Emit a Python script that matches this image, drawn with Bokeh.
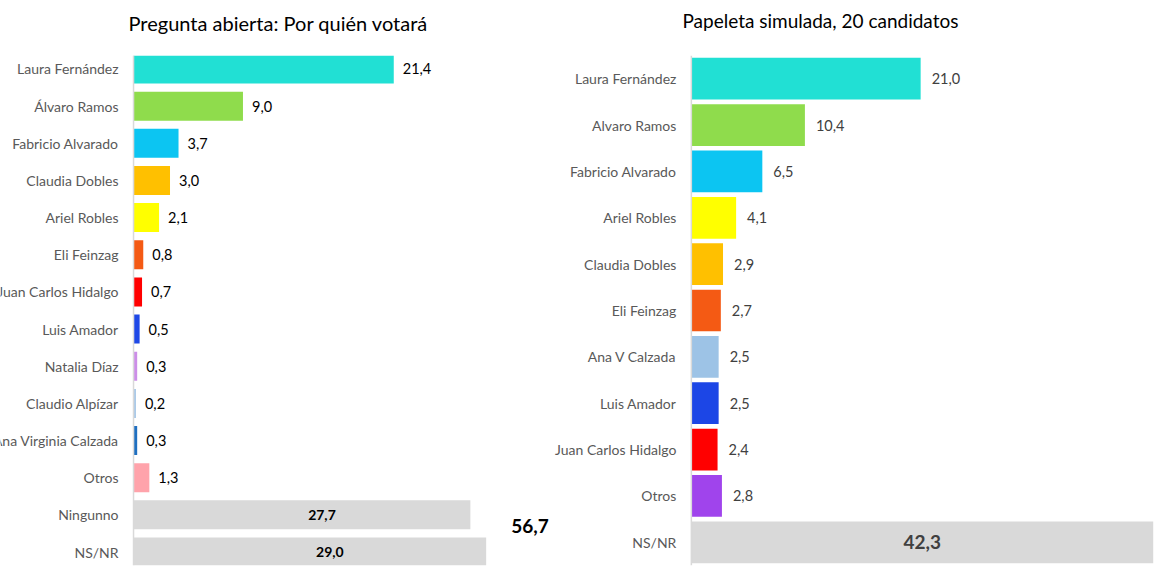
from bokeh.plotting import figure
from bokeh.models import Range1d, FactorRange, Span, Label, ColumnDataSource, Title
from bokeh.layouts import row
from bokeh.embed import file_html
from bokeh.resources import INLINE
from bokeh.core.properties import value

# ---------------- data ----------------
left_title = "Pregunta abierta: Por quién votará"
left_cats = ["Laura Fernández", "Álvaro Ramos", "Fabricio Alvarado", "Claudia Dobles",
             "Ariel Robles", "Eli Feinzag", "Juan Carlos Hidalgo", "Luis Amador",
             "Natalia Díaz", "Claudio Alpízar", "Ana Virginia Calzada", "Otros",
             "Ningunno", "NS/NR"]
left_vals = [21.4, 9.0, 3.7, 3.0, 2.1, 0.8, 0.7, 0.5, 0.3, 0.2, 0.3, 1.3, 27.7, 29.0]
left_colors = ["#21e0d4", "#8fdc4c", "#0cc5f2", "#ffc000", "#ffff00", "#f45a14",
               "#ff0000", "#1e48e6", "#cc8ee8", "#a8c8e8", "#1f6fc0", "#ffa3ab",
               "#d9d9d9", "#d9d9d9"]

right_title = "Papeleta simulada, 20 candidatos"
right_cats = ["Laura Fernández", "Alvaro Ramos", "Fabricio Alvarado", "Ariel Robles",
              "Claudia Dobles", "Eli Feinzag", "Ana V Calzada", "Luis Amador",
              "Juan Carlos Hidalgo", "Otros", "NS/NR"]
right_vals = [21.0, 10.4, 6.5, 4.1, 2.9, 2.7, 2.5, 2.5, 2.4, 2.8, 42.3]
right_colors = ["#21e0d4", "#8fdc4c", "#0cc5f2", "#ffff00", "#ffc000", "#f45a14",
                "#9dc3e6", "#1c46e6", "#ff0000", "#a044ec", "#d9d9d9"]

undecided = ["Ningunno", "NS/NR"]

FONT = "Lato"


def fmt(v):
    return f"{v:.1f}".replace(".", ",")


def make_chart(title, cats, vals, colors, width, height, x_range, pad,
               bar_h, val_color, title_size, title_offset, title_gap,
               inner_size, inner_color, inner_shift, val_gap):
    p = figure(width=width, height=height, output_backend="svg", toolbar_location=None,
               x_range=x_range,
               y_range=FactorRange(factors=list(reversed(cats)), range_padding=pad,
                                   range_padding_units="absolute"),
               x_axis_location=None, y_axis_location=None,
               min_border_left=0, min_border_right=0,
               min_border_top=55, min_border_bottom=7)
    p.outline_line_color = None
    p.xgrid.visible = False
    p.ygrid.visible = False
    p.background_fill_color = "white"

    # spacer (closest to the frame), then the title itself
    p.add_layout(Title(text=" ", text_font_size="1px", standoff=title_gap), "above")
    p.add_layout(Title(text=title, align="left", offset=title_offset, standoff=0,
                       text_font=FONT, text_font_size=title_size,
                       text_font_style="normal", text_color="#000000"), "above")

    src = ColumnDataSource(dict(cat=cats, val=vals, color=colors))
    p.hbar(y="cat", right="val", left=0, height=bar_h, color="color",
           line_color=None, source=src)

    # axis line
    p.add_layout(Span(location=0, dimension="height", line_color="#d9d9d9",
                      line_width=1.5))

    # category labels
    p.text(x=0, y="cat", text="cat", x_offset=-15, text_align="right",
           text_baseline="middle", text_font=value(FONT), text_font_size="14px",
           text_color="#595959", source=src)

    out = [i for i, c in enumerate(cats) if c not in undecided]
    ins = [i for i, c in enumerate(cats) if c in undecided]
    src_out = ColumnDataSource(dict(cat=[cats[i] for i in out], val=[vals[i] for i in out],
                                    label=[fmt(vals[i]) for i in out]))
    p.text(x="val", y="cat", text="label", x_offset=val_gap, text_align="left",
           text_baseline="middle", text_font=value(FONT), text_font_size="14.5px",
           text_color=val_color, source=src_out)
    src_in = ColumnDataSource(dict(cat=[cats[i] for i in ins],
                                   mid=[vals[i] / 2 for i in ins],
                                   label=[fmt(vals[i]) for i in ins]))
    p.text(x="mid", y="cat", text="label", x_offset=inner_shift, text_align="center",
           text_baseline="middle", text_font=value(FONT), text_font_size=inner_size,
           text_font_style="bold", text_color=inner_color, source=src_in)
    return p, ins


left, left_ins = make_chart(left_title, left_cats, left_vals, left_colors, 550, 572,
                            Range1d(-10.94, 34.29), -0.137, 0.78, "#000000",
                            "20px", 128, 18, "14px", "#000000", 20, 9)
right, _ = make_chart(right_title, right_cats, right_vals, right_colors, 606, 572,
                      Range1d(-12.9, 42.6), 0.0, 0.9, "#404040",
                      "19px", 132, 21, "19px", "#404040", 0, 11)

# total of the undecided categories (left chart)
total_undecided = sum(left_vals[i] for i in left_ins)
left.add_layout(Label(x=max(left_vals[i] for i in left_ins), y=1.0, x_offset=25, y_offset=7,
                      text=fmt(total_undecided), text_font=FONT, text_font_size="19px",
                      text_font_style="bold", text_color="#000000",
                      text_baseline="middle"))

layout = row(left, right)
open("out.html", "w").write(file_html(layout, INLINE))
